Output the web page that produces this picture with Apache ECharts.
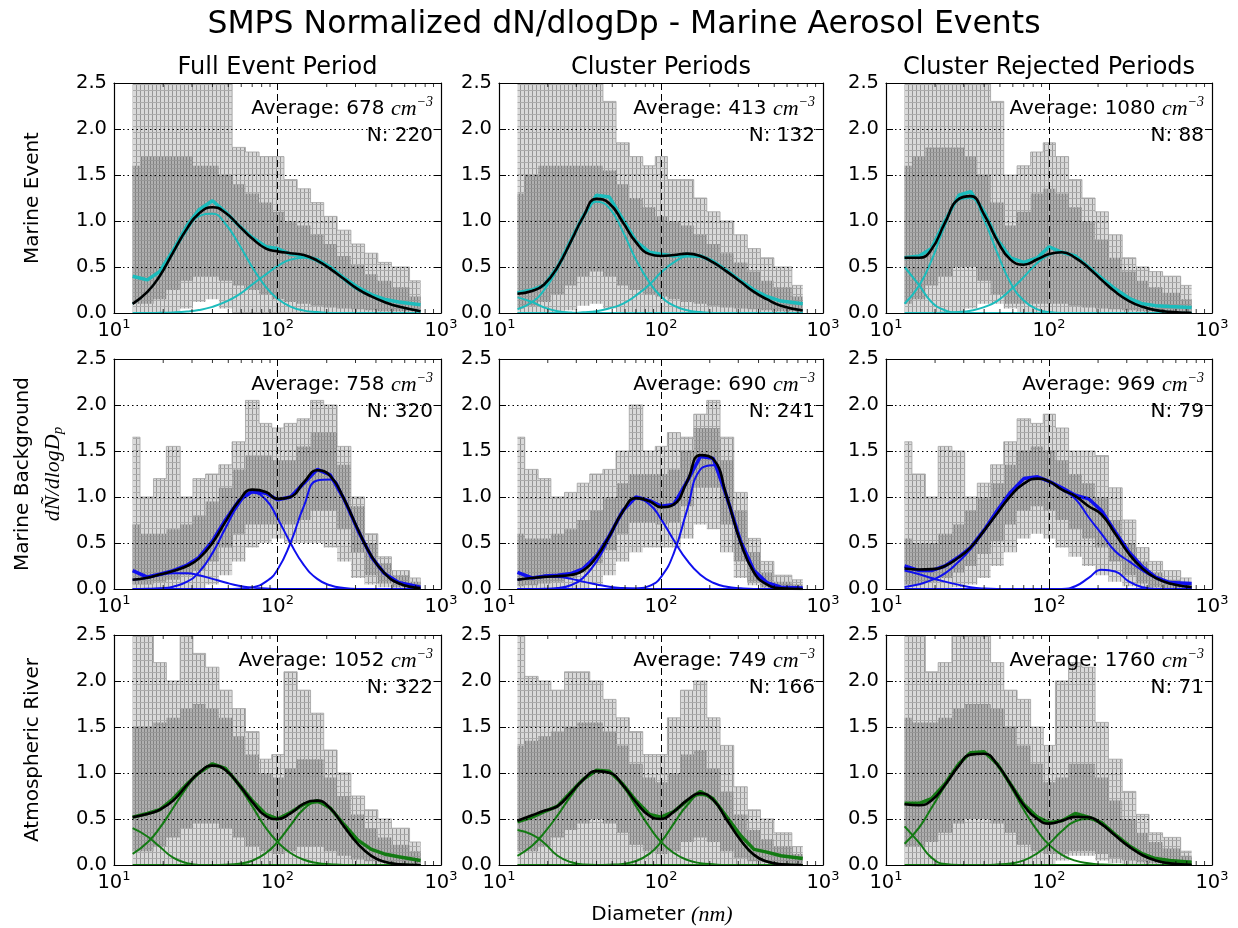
<!DOCTYPE html>
<html><head><meta charset="utf-8">
<script src="https://cdn.jsdelivr.net/npm/echarts@6/dist/echarts.min.js"></script>
<style>html,body{margin:0;padding:0;background:#fff}#c{width:1238px;height:928px}</style>
</head><body><div id="c"></div>
<script>
// ---------- data ----------
const DIAM = [13,16,19,23,28,33,40,48,58,70,85,100,120,145,175,210,255,310,375,450,550,750];
const X_MINOR = [20,30,40,50,60,70,80,90,200,300,400,500,600,700,800,900];
const ROW_NAMES = ['Marine Event','Marine Background','Atmospheric River'];
const COL_NAMES = ['Full Event Period','Cluster Periods','Cluster Rejected Periods'];
const AVERAGES = [678,413,1080,758,690,969,1052,749,1760];
const COUNTS = [220,132,88,320,241,79,322,166,71];

// Row 1: Marine Event
const P11_outerLo = [0,0,0,0,0.05,0.12,0.15,0.05,0,0,0,0,0,0,0,0,0,0,0,0,0,0];
const P11_outerHi = [2.5,2.5,2.5,2.5,2.5,2.5,2.5,2.5,1.8,1.75,1.7,1.7,1.45,1.35,1.2,1.05,0.9,0.75,0.65,0.55,0.5,0.35];
const P11_innerLo = [0.1,0.1,0.15,0.25,0.35,0.4,0.4,0.35,0.3,0.25,0.2,0.15,0.12,0.1,0.08,0.06,0.05,0.04,0.03,0.02,0.02,0.02];
const P11_innerHi = [1.6,1.7,1.7,1.7,1.7,1.6,1.6,1.5,1.4,1.3,1.2,1.1,1.0,0.95,0.85,0.75,0.62,0.52,0.42,0.35,0.28,0.18];
const P11_mean = [0.40,0.36,0.45,0.68,0.95,1.12,1.22,1.1,0.95,0.82,0.72,0.70,0.64,0.62,0.58,0.5,0.38,0.28,0.2,0.15,0.12,0.09];
const P11_fit = [0.10,0.23,0.40,0.66,0.92,1.08,1.15,1.09,0.95,0.81,0.70,0.67,0.65,0.63,0.57,0.48,0.37,0.26,0.18,0.12,0.07,0.02];
const P11_m1 = [0.10,0.23,0.40,0.65,0.90,1.05,1.08,0.97,0.75,0.50,0.28,0.155,0.07,0.026,0.01,0,0,0,0,0,0,0];
const P11_m2 = [0,0,0.002,0.006,0.016,0.032,0.067,0.12,0.20,0.31,0.42,0.51,0.58,0.60,0.56,0.48,0.36,0.25,0.18,0.12,0.07,0.02];

const P12_outerLo = [0,0,0,0,0.03,0.08,0.1,0.05,0,0,0,0,0,0,0,0,0,0,0,0,0,0];
const P12_outerHi = [2.5,2.5,2.5,2.5,2.5,2.5,2.5,2.3,1.85,1.7,1.6,1.7,1.45,1.45,1.25,1.1,1.0,0.85,0.7,0.6,0.5,0.3];
const P12_innerLo = [0.05,0.08,0.12,0.2,0.3,0.4,0.45,0.4,0.3,0.25,0.2,0.18,0.15,0.12,0.1,0.08,0.06,0.05,0.04,0.03,0.02,0.02];
const P12_innerHi = [1.3,1.5,1.6,1.6,1.6,1.6,1.6,1.55,1.4,1.25,1.15,1.05,1.0,0.95,0.85,0.75,0.65,0.55,0.45,0.35,0.28,0.18];
const P12_mean = [0.22,0.25,0.30,0.50,0.80,1.05,1.28,1.26,1.02,0.78,0.66,0.64,0.62,0.64,0.62,0.56,0.46,0.35,0.25,0.18,0.13,0.10];
const P12_fit = [0.21,0.24,0.31,0.50,0.79,1.04,1.24,1.19,0.99,0.77,0.64,0.62,0.63,0.645,0.62,0.55,0.45,0.34,0.23,0.15,0.08,0.027];
const P12_m1 = [0.17,0.12,0.06,0.02,0.005,0,0,0,0,0,0,0,0,0,0,0,0,0,0,0,0,0];
const P12_m2 = [0.04,0.12,0.25,0.48,0.78,1.03,1.21,1.14,0.89,0.58,0.33,0.18,0.08,0.03,0.01,0,0,0,0,0,0,0];
const P12_m3 = [0,0,0,0,0,0.008,0.02,0.05,0.10,0.19,0.31,0.44,0.55,0.615,0.61,0.55,0.45,0.34,0.23,0.15,0.08,0.027];

const P13_outerLo = [0,0,0,0,0,0.05,0.1,0.1,0.05,0,0,0,0,0,0,0,0,0,0,0,0,0];
const P13_outerHi = [2.5,2.5,2.5,2.5,2.5,2.5,2.5,2.3,1.5,1.6,1.75,1.85,1.7,1.45,1.25,1.1,0.85,0.6,0.5,0.45,0.4,0.3];
const P13_innerLo = [0.1,0.15,0.3,0.4,0.5,0.5,0.35,0.2,0.1,0.1,0.1,0.1,0.1,0.08,0.06,0.05,0.04,0.03,0.02,0.02,0.02,0.02];
const P13_innerHi = [1.6,1.7,1.8,1.8,1.8,1.7,1.5,1.2,0.95,1.1,1.3,1.35,1.3,1.15,1.0,0.8,0.6,0.45,0.35,0.28,0.22,0.15];
const P13_mean = [0.6,0.62,0.7,1.0,1.28,1.32,1.1,0.8,0.6,0.55,0.6,0.72,0.66,0.62,0.5,0.38,0.26,0.16,0.1,0.08,0.07,0.06];
const P13_fit = [0.60,0.60,0.69,0.98,1.24,1.27,1.07,0.79,0.58,0.525,0.585,0.64,0.66,0.60,0.49,0.36,0.23,0.13,0.067,0.031,0.012,0.002];
const P13_m1 = [0.5,0.3,0.12,0.03,0,0,0,0,0,0,0,0,0,0,0,0,0,0,0,0,0,0];
const P13_m2 = [0.10,0.30,0.57,0.95,1.23,1.25,1.01,0.66,0.33,0.135,0.04,0.01,0,0,0,0,0,0,0,0,0,0];
const P13_m3 = [0,0,0,0.003,0.01,0.025,0.064,0.13,0.25,0.39,0.545,0.63,0.66,0.60,0.49,0.36,0.23,0.13,0.067,0.031,0.012,0.002];

// Row 2: Marine Background
const P21_outerLo = [0,0,0,0,0,0,0.05,0.15,0.3,0.45,0.5,0.55,0.5,0.5,0.5,0.45,0.3,0.12,0.05,0.02,0,0];
const P21_outerHi = [1.65,1.0,1.2,1.55,1.0,1.2,1.25,1.35,1.6,2.05,1.8,1.75,1.8,1.85,2.05,2.0,1.55,1.0,0.6,0.35,0.2,0.12];
const P21_innerLo = [0.05,0.05,0.08,0.1,0.15,0.2,0.3,0.45,0.6,0.7,0.7,0.7,0.7,0.75,0.85,0.85,0.65,0.4,0.15,0.06,0.02,0.01];
const P21_innerHi = [0.7,0.6,0.6,0.65,0.7,0.8,0.95,1.1,1.3,1.45,1.45,1.4,1.4,1.55,1.7,1.7,1.35,0.9,0.5,0.28,0.15,0.08];
const P21_mean = [0.2,0.13,0.16,0.2,0.26,0.34,0.52,0.75,0.96,1.06,1.04,0.97,1.0,1.15,1.3,1.24,0.98,0.64,0.35,0.17,0.07,0.02];
const P21_fit = [0.10,0.122,0.157,0.195,0.25,0.33,0.50,0.73,0.955,1.08,1.055,0.98,1.0,1.16,1.29,1.23,0.98,0.65,0.36,0.175,0.063,0.009];
const P21_m1 = [0.1,0.12,0.15,0.17,0.17,0.15,0.11,0.07,0.035,0.015,0.005,0,0,0,0,0,0,0,0,0,0,0];
const P21_m2 = [0,0.002,0.007,0.025,0.08,0.18,0.39,0.66,0.92,1.05,0.97,0.77,0.50,0.26,0.11,0.04,0.01,0,0,0,0,0];
const P21_m3 = [0,0,0,0,0,0,0,0,0.003,0.018,0.08,0.21,0.5,0.9,1.18,1.19,0.97,0.65,0.36,0.175,0.063,0.009];

const P22_outerLo = [0,0,0,0,0,0,0.05,0.15,0.3,0.4,0.45,0.45,0.45,0.55,0.7,0.65,0.4,0.12,0.04,0.01,0,0];
const P22_outerHi = [1.65,1.3,1.2,1.0,1.05,1.15,1.25,1.3,1.5,2.0,1.5,1.55,1.7,1.65,1.9,2.05,1.65,1.05,0.55,0.3,0.15,0.1];
const P22_innerLo = [0.03,0.04,0.06,0.08,0.12,0.18,0.28,0.42,0.6,0.72,0.72,0.7,0.72,0.9,1.1,1.1,0.7,0.3,0.08,0.02,0.01,0];
const P22_innerHi = [0.6,0.55,0.55,0.6,0.65,0.75,0.85,1.0,1.15,1.25,1.25,1.25,1.3,1.5,1.75,1.75,1.4,0.85,0.4,0.18,0.08,0.05];
const P22_mean = [0.18,0.12,0.14,0.15,0.17,0.22,0.36,0.58,0.85,1.0,0.96,0.9,0.92,1.17,1.44,1.42,1.0,0.52,0.2,0.07,0.02,0.01];
const P22_fit = [0.10,0.12,0.132,0.14,0.154,0.20,0.35,0.575,0.84,0.988,0.954,0.89,0.92,1.17,1.455,1.413,1.0,0.507,0.18,0.05,0.009,0];
const P22_m1 = [0.1,0.12,0.13,0.13,0.11,0.08,0.05,0.025,0.01,0.003,0,0,0,0,0,0,0,0,0,0,0,0];
const P22_m2 = [0,0,0.002,0.01,0.044,0.12,0.30,0.55,0.83,0.98,0.92,0.76,0.53,0.31,0.155,0.068,0.024,0.007,0,0,0,0];
const P22_m3 = [0,0,0,0,0,0,0,0,0,0.005,0.034,0.13,0.39,0.86,1.30,1.345,0.98,0.50,0.18,0.05,0.009,0];

const P23_outerLo = [0,0,0,0,0.02,0.05,0.12,0.25,0.4,0.55,0.6,0.55,0.45,0.35,0.25,0.15,0.08,0.03,0.01,0,0,0];
const P23_outerHi = [1.6,1.25,1.0,1.55,1.5,1.0,1.15,1.35,1.6,1.85,1.8,1.9,1.75,1.5,1.5,1.45,1.1,0.75,0.45,0.3,0.2,0.12];
const P23_innerLo = [0.05,0.05,0.08,0.12,0.18,0.25,0.38,0.52,0.7,0.85,0.9,0.85,0.75,0.65,0.55,0.45,0.3,0.15,0.06,0.02,0.01,0.01];
const P23_innerHi = [0.55,0.5,0.5,0.6,0.7,0.85,1.0,1.15,1.35,1.5,1.55,1.5,1.4,1.25,1.15,1.0,0.75,0.5,0.3,0.18,0.1,0.06];
const P23_mean = [0.25,0.2,0.2,0.25,0.35,0.45,0.64,0.85,1.05,1.2,1.22,1.17,1.1,1.02,0.98,0.85,0.62,0.4,0.24,0.13,0.07,0.06];
const P23_fit = [0.223,0.212,0.216,0.25,0.345,0.45,0.635,0.82,1.01,1.145,1.2,1.17,1.08,1.01,0.90,0.81,0.60,0.38,0.22,0.12,0.06,0.02];
const P23_m1 = [0.2,0.16,0.12,0.08,0.045,0.02,0.005,0,0,0,0,0,0,0,0,0,0,0,0,0,0,0];
const P23_m2 = [0.023,0.052,0.096,0.17,0.30,0.43,0.63,0.82,1.01,1.145,1.2,1.17,1.08,0.98,0.78,0.60,0.41,0.30,0.20,0.12,0.06,0.02];
const P23_m3 = [0,0,0,0,0,0,0,0,0,0,0,0,0,0.03,0.12,0.21,0.19,0.08,0.02,0,0,0];

// Row 3: Atmospheric River
const P31_outerLo = [0,0,0,0,0,0,0,0,0,0,0,0,0,0,0,0,0,0,0,0,0,0];
const P31_outerHi = [2.5,2.5,2.2,2.0,2.5,2.3,2.15,1.9,1.7,1.45,1.15,1.2,2.1,1.9,1.65,1.25,1.0,0.75,0.6,0.5,0.4,0.25];
const P31_innerLo = [0.15,0.15,0.2,0.3,0.4,0.45,0.45,0.4,0.3,0.2,0.15,0.12,0.15,0.2,0.2,0.15,0.1,0.06,0.04,0.03,0.02,0.02];
const P31_innerHi = [1.5,1.5,1.55,1.6,1.7,1.75,1.7,1.6,1.4,1.2,1.0,0.95,1.05,1.15,1.15,0.95,0.75,0.55,0.4,0.3,0.22,0.15];
const P31_mean = [0.52,0.56,0.6,0.72,0.88,1.0,1.1,1.05,0.88,0.7,0.55,0.5,0.57,0.66,0.7,0.62,0.44,0.27,0.17,0.12,0.09,0.05];
const P31_fit = [0.52,0.555,0.60,0.70,0.87,1.0,1.08,1.033,0.873,0.686,0.53,0.50,0.56,0.667,0.70,0.618,0.42,0.23,0.10,0.036,0.009,0];
const P31_m1 = [0.4,0.31,0.2,0.08,0.02,0,0,0,0,0,0,0,0,0,0,0,0,0,0,0,0,0];
const P31_m2 = [0.12,0.245,0.40,0.62,0.85,1.0,1.08,1.03,0.86,0.64,0.40,0.25,0.13,0.057,0.022,0.008,0,0,0,0,0,0];
const P31_m3 = [0,0,0,0,0,0,0,0.003,0.013,0.046,0.13,0.25,0.43,0.61,0.68,0.61,0.42,0.23,0.10,0.036,0.009,0];

const P32_outerLo = [0,0,0,0,0,0,0,0,0,0,0,0,0,0,0,0,0,0,0,0,0,0];
const P32_outerHi = [2.5,2.05,2.0,1.9,2.1,2.1,2.0,1.8,1.6,1.45,1.2,1.2,1.6,1.9,2.0,1.6,1.3,0.85,0.6,0.5,0.35,0.2];
const P32_innerLo = [0.15,0.15,0.2,0.3,0.38,0.45,0.5,0.45,0.35,0.22,0.15,0.12,0.15,0.25,0.3,0.25,0.15,0.08,0.04,0.03,0.02,0.02];
const P32_innerHi = [1.3,1.35,1.4,1.45,1.5,1.55,1.55,1.45,1.3,1.1,0.95,0.9,1.0,1.2,1.25,1.05,0.8,0.55,0.38,0.28,0.2,0.12];
const P32_mean = [0.47,0.52,0.58,0.64,0.8,0.93,1.03,1.02,0.88,0.7,0.55,0.52,0.58,0.7,0.8,0.72,0.52,0.32,0.17,0.14,0.1,0.07];
const P32_fit = [0.48,0.54,0.59,0.64,0.79,0.925,1.02,1.003,0.872,0.683,0.534,0.50,0.58,0.705,0.78,0.707,0.49,0.27,0.11,0.038,0.009,0];
const P32_m1 = [0.38,0.33,0.24,0.1,0.03,0.005,0,0,0,0,0,0,0,0,0,0,0,0,0,0,0,0];
const P32_m2 = [0.10,0.21,0.35,0.54,0.76,0.92,1.02,1.0,0.86,0.64,0.41,0.25,0.13,0.055,0.02,0.007,0,0,0,0,0,0];
const P32_m3 = [0,0,0,0,0,0,0,0.003,0.012,0.043,0.124,0.25,0.45,0.65,0.76,0.70,0.49,0.27,0.11,0.038,0.009,0];

const P33_outerLo = [0,0,0,0,0,0,0,0,0,0,0,0,0.05,0.1,0.1,0.05,0.02,0,0,0,0,0];
const P33_outerHi = [2.5,2.5,2.1,2.2,2.5,2.5,2.5,2.2,1.9,1.8,1.5,1.3,2.0,2.2,2.15,1.55,1.15,0.8,0.55,0.35,0.3,0.15];
const P33_innerLo = [0.2,0.2,0.25,0.35,0.45,0.5,0.5,0.45,0.35,0.22,0.15,0.12,0.12,0.15,0.15,0.12,0.08,0.05,0.03,0.02,0.01,0.01];
const P33_innerHi = [1.6,1.55,1.55,1.6,1.7,1.75,1.75,1.7,1.5,1.3,1.1,0.9,0.95,1.1,1.1,0.95,0.7,0.5,0.35,0.25,0.18,0.1];
const P33_mean = [0.67,0.67,0.72,0.88,1.1,1.22,1.23,1.1,0.88,0.66,0.52,0.46,0.48,0.56,0.52,0.46,0.33,0.21,0.12,0.07,0.05,0.03];
const P33_fit = [0.66,0.65,0.70,0.87,1.08,1.20,1.21,1.095,0.877,0.65,0.50,0.45,0.48,0.523,0.519,0.445,0.32,0.20,0.106,0.05,0.018,0.003];
const P33_m1 = [0.42,0.24,0.08,0.01,0,0,0,0,0,0,0,0,0,0,0,0,0,0,0,0,0,0];
const P33_m2 = [0.23,0.41,0.62,0.86,1.08,1.2,1.21,1.09,0.86,0.60,0.37,0.22,0.11,0.048,0.019,0.005,0,0,0,0,0,0];
const P33_m3 = [0,0,0,0,0,0,0,0.005,0.017,0.05,0.13,0.23,0.37,0.475,0.5,0.44,0.32,0.20,0.106,0.05,0.018,0.003];

// ---------- assembly ----------
const PANELS = [
  {oLo:P11_outerLo,oHi:P11_outerHi,iLo:P11_innerLo,iHi:P11_innerHi,mean:P11_mean,fit:P11_fit,modes:[P11_m1,P11_m2]},
  {oLo:P12_outerLo,oHi:P12_outerHi,iLo:P12_innerLo,iHi:P12_innerHi,mean:P12_mean,fit:P12_fit,modes:[P12_m1,P12_m2,P12_m3]},
  {oLo:P13_outerLo,oHi:P13_outerHi,iLo:P13_innerLo,iHi:P13_innerHi,mean:P13_mean,fit:P13_fit,modes:[P13_m1,P13_m2,P13_m3]},
  {oLo:P21_outerLo,oHi:P21_outerHi,iLo:P21_innerLo,iHi:P21_innerHi,mean:P21_mean,fit:P21_fit,modes:[P21_m1,P21_m2,P21_m3]},
  {oLo:P22_outerLo,oHi:P22_outerHi,iLo:P22_innerLo,iHi:P22_innerHi,mean:P22_mean,fit:P22_fit,modes:[P22_m1,P22_m2,P22_m3]},
  {oLo:P23_outerLo,oHi:P23_outerHi,iLo:P23_innerLo,iHi:P23_innerHi,mean:P23_mean,fit:P23_fit,modes:[P23_m1,P23_m2,P23_m3]},
  {oLo:P31_outerLo,oHi:P31_outerHi,iLo:P31_innerLo,iHi:P31_innerHi,mean:P31_mean,fit:P31_fit,modes:[P31_m1,P31_m2,P31_m3]},
  {oLo:P32_outerLo,oHi:P32_outerHi,iLo:P32_innerLo,iHi:P32_innerHi,mean:P32_mean,fit:P32_fit,modes:[P32_m1,P32_m2,P32_m3]},
  {oLo:P33_outerLo,oHi:P33_outerHi,iLo:P33_innerLo,iHi:P33_innerHi,mean:P33_mean,fit:P33_fit,modes:[P33_m1,P33_m2,P33_m3]}
];

const GRID_LEFT = [114, 499, 886];
const GRID_WIDTH = [327, 324, 326];
const GRID_TOP = [83, 359, 635];
const GRID_H = 230;
const ROW_COLOR = ['#1cbcbc', '#1010ee', '#137a13'];
const FONT = 'DejaVu Sans';
const SERIF = 'Liberation Serif';

// texture imitating a mesh of thin grey step lines
function mesh(w, h, bg, vLine, hLine, hEvery) {
  const c = document.createElement('canvas'); c.width = w; c.height = h;
  const g = c.getContext('2d');
  g.fillStyle = bg; g.fillRect(0, 0, w, h);
  g.fillStyle = vLine; g.fillRect(0, 0, 1, h);
  g.fillStyle = hLine;
  for (let y = 0; y < h; y += hEvery) g.fillRect(0, y, w, 1);
  return c;
}
const OUTER_PAT = {image: mesh(4, 12, '#d9d9d9', '#969696', '#ababab', 6), repeat: 'repeat'};
const INNER_PAT = {image: mesh(3, 8, '#b0b0b0', '#828282', '#979797', 4), repeat: 'repeat'};

const pairs = arr => DIAM.map((d, k) => [d, arr[k]]);

// step ("middle") outline in pixel space for a list of projected points
function stepPath(pts) {
  const out = [], n = pts.length;
  for (let k = 0; k < n; k++) {
    const xl = k === 0 ? pts[0][0] : (pts[k - 1][0] + pts[k][0]) / 2;
    const xr = k === n - 1 ? pts[n - 1][0] : (pts[k][0] + pts[k + 1][0]) / 2;
    out.push([xl, pts[k][1]], [xr, pts[k][1]]);
  }
  return out;
}
function bandSeries(i, lo, hi, fill, stroke, strokeW, z) {
  return {
    type: 'custom', xAxisIndex: 2 * i, yAxisIndex: 2 * i, silent: true, animation: false, z: z, clip: true,
    data: [[DIAM[0], lo[0]]],
    renderItem: function (params, api) {
      const top = stepPath(DIAM.map((d, k) => api.coord([d, hi[k]])));
      const bot = stepPath(DIAM.map((d, k) => api.coord([d, lo[k]]))).reverse();
      return {type: 'group', children: [
        {type: 'polygon', shape: {points: top.concat(bot)}, style: {fill: fill, stroke: null}},
        {type: 'polyline', shape: {points: top}, style: {fill: null, stroke: stroke, lineWidth: strokeW}}
      ]};
    }
  };
}

const grids = [], xAxes = [], yAxes = [], series = [], graphics = [];
const supRich = {
  b: {fontSize: 19.5, fontFamily: FONT, color: '#000'},
  e: {fontSize: 13, fontFamily: FONT, color: '#000', padding: [0, 0, 12, 0]}
};

PANELS.forEach((p, i) => {
  const r = Math.floor(i / 3), c = i % 3;
  const left = GRID_LEFT[c], top = GRID_TOP[r], w = GRID_WIDTH[c];
  grids.push({left: left, top: top, width: w, height: GRID_H, show: false});
  const axLine = {show: true, onZero: false, lineStyle: {color: '#000', width: 1.2}};
  const tick = {show: true, inside: true, length: 7, lineStyle: {color: '#000', width: 1}};
  xAxes.push({
    type: 'log', logBase: 10, gridIndex: i, min: 10, max: 1000, position: 'bottom', z: 10,
    axisLine: axLine, axisTick: tick,
    axisLabel: {show: true, margin: 5, formatter: v => '{b|10}{e|' + Math.round(Math.log10(v)) + '}', rich: supRich, showMinLabel: true, showMaxLabel: true},
    splitLine: {show: true, lineStyle: {color: '#000', type: [7, 4], width: 1}}
  });
  xAxes.push({
    type: 'log', logBase: 10, gridIndex: i, min: 10, max: 1000, position: 'top', z: 10,
    axisLine: axLine, axisTick: tick, axisLabel: {show: false}, splitLine: {show: false}
  });
  yAxes.push({
    type: 'value', gridIndex: i, min: 0, max: 2.5, interval: 0.5, position: 'left', z: 10,
    axisLine: axLine, axisTick: tick,
    axisLabel: {show: true, margin: 7, formatter: v => v.toFixed(1), fontSize: 19.5, fontFamily: FONT, color: '#000'},
    splitLine: {show: true, lineStyle: {color: '#000', type: [1.5, 3], width: 1}}
  });
  yAxes.push({
    type: 'value', gridIndex: i, min: 0, max: 2.5, interval: 0.5, position: 'right', z: 10,
    axisLine: axLine, axisTick: tick, axisLabel: {show: false}, splitLine: {show: false}
  });
  const xi = 2 * i, yi = 2 * i;
  const base = {type: 'line', xAxisIndex: xi, yAxisIndex: yi, symbol: 'none', silent: true, animation: false};
  // grey spectra envelopes
  series.push(bandSeries(i, p.oLo, p.oHi, OUTER_PAT, '#a0a0a0', 0.8, 1));
  series.push(bandSeries(i, p.iLo, p.iHi, INNER_PAT, 'rgba(0,0,0,0)', 0, 2));
  // measured mean (thick coloured)
  series.push(Object.assign({}, base, {data: pairs(p.mean), lineStyle: {width: 3.5, color: ROW_COLOR[r]}, z: 3}));
  // fitted modes
  p.modes.forEach(m => {
    series.push(Object.assign({}, base, {data: pairs(m), smooth: 0.5, lineStyle: {width: 2, color: ROW_COLOR[r]}, z: 4}));
  });
  // total fit
  series.push(Object.assign({}, base, {data: pairs(p.fit), smooth: 0.5, lineStyle: {width: 2.6, color: '#000'}, z: 5}));
  // minor log ticks (bottom & top)
  series.push({type: 'scatter', xAxisIndex: xi, yAxisIndex: yi, silent: true, animation: false, z: 11,
    data: X_MINOR.map(v => [v, 0]), symbol: 'rect', symbolSize: [1, 4], symbolOffset: [0, -2], itemStyle: {color: '#000'}});
  series.push({type: 'scatter', xAxisIndex: xi, yAxisIndex: yi, silent: true, animation: false, z: 11,
    data: X_MINOR.map(v => [v, 2.5]), symbol: 'rect', symbolSize: [1, 4], symbolOffset: [0, 2], itemStyle: {color: '#000'}});
  // annotations
  graphics.push({type: 'text', x: left + w - 8, y: top + 26, z: 100, silent: true, style: {
    text: '{n|Average: ' + AVERAGES[i] + ' }{i|cm}{s|\u22123}', align: 'right', verticalAlign: 'middle',
    rich: {
      n: {fontSize: 20, fontFamily: FONT, fill: '#000'},
      i: {fontSize: 22, fontFamily: SERIF, fontStyle: 'italic', fill: '#000'},
      s: {fontSize: 14, fontFamily: SERIF, fontStyle: 'italic', fill: '#000', padding: [0, 0, 13, 0]}
    }}});
  graphics.push({type: 'text', x: left + w - 8, y: top + 53, z: 100, silent: true, style: {
    text: 'N: ' + COUNTS[i], align: 'right', verticalAlign: 'middle', fontSize: 20, fontFamily: FONT, fill: '#000'}});
});

// titles and labels
graphics.push({type: 'text', x: 624, y: 25, silent: true, style: {text: 'SMPS Normalized dN/dlogDp - Marine Aerosol Events',
  align: 'center', verticalAlign: 'middle', fontSize: 31.5, fontFamily: FONT, fill: '#000'}});
COL_NAMES.forEach((t, c) => {
  graphics.push({type: 'text', x: GRID_LEFT[c] + GRID_WIDTH[c] / 2, y: 68, silent: true, style: {text: t,
    align: 'center', verticalAlign: 'middle', fontSize: 24, fontFamily: FONT, fill: '#000'}});
});
graphics.push({type: 'text', x: 33, y: GRID_TOP[0] + GRID_H / 2, rotation: Math.PI / 2, silent: true, style: {text: ROW_NAMES[0],
  align: 'center', verticalAlign: 'middle', fontSize: 20, fontFamily: FONT, fill: '#000'}});
graphics.push({type: 'text', x: 38, y: GRID_TOP[1] + GRID_H / 2, rotation: Math.PI / 2, silent: true, style: {
  text: '{a|' + ROW_NAMES[1] + '}\n{m|d\u00d1/dlogD}{p|p}',
  align: 'center', verticalAlign: 'middle',
  rich: {
    a: {fontSize: 20, fontFamily: FONT, fill: '#000', lineHeight: 30},
    m: {fontSize: 22, fontFamily: SERIF, fontStyle: 'italic', fill: '#000', lineHeight: 30},
    p: {fontSize: 15, fontFamily: SERIF, fontStyle: 'italic', fill: '#000', lineHeight: 30, padding: [10, 0, 0, 0]}
  }}});
graphics.push({type: 'text', x: 33, y: GRID_TOP[2] + GRID_H / 2, rotation: Math.PI / 2, silent: true, style: {text: ROW_NAMES[2],
  align: 'center', verticalAlign: 'middle', fontSize: 20, fontFamily: FONT, fill: '#000'}});
graphics.push({type: 'text', x: 662, y: 915, silent: true, style: {text: '{a|Diameter }{i|(nm)}',
  align: 'center', verticalAlign: 'middle',
  rich: {a: {fontSize: 20, fontFamily: FONT, fill: '#000'}, i: {fontSize: 22, fontFamily: SERIF, fontStyle: 'italic', fill: '#000'}}}});

const chart = echarts.init(document.getElementById('c'), null, {renderer: 'canvas', width: 1238, height: 928});
chart.setOption({
  animation: false,
  backgroundColor: '#fff',
  grid: grids, xAxis: xAxes, yAxis: yAxes, series: series, graphic: graphics
});
</script>
</body></html>
